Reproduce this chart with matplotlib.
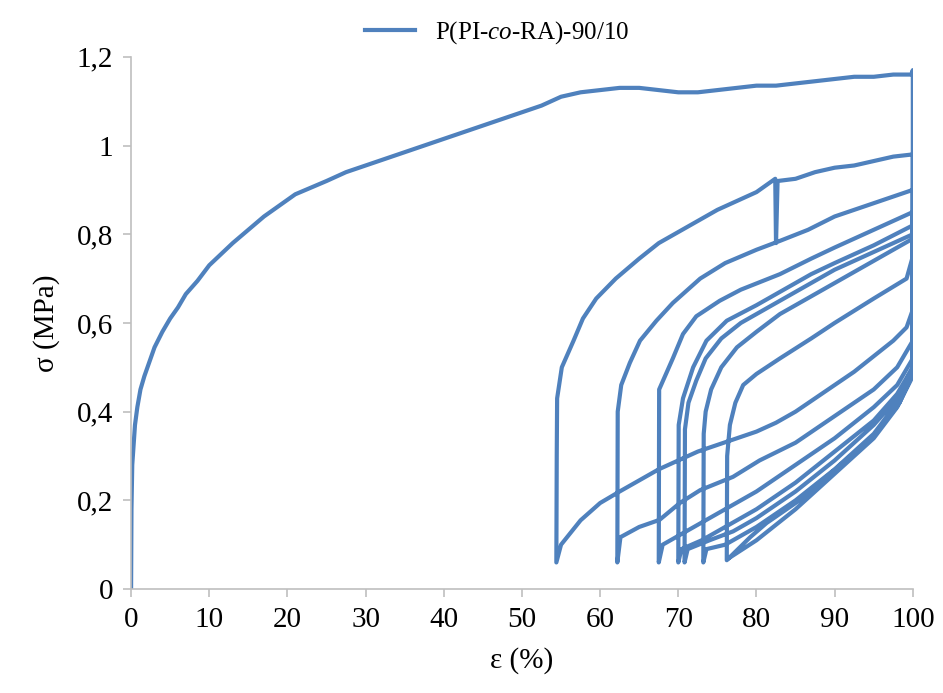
import numpy as np
import matplotlib.pyplot as plt

plt.rcParams['font.family'] = ['Liberation Serif', 'DejaVu Serif']
plt.rcParams['mathtext.fontset'] = 'custom'
plt.rcParams['mathtext.rm'] = 'Liberation Serif'
plt.rcParams['mathtext.it'] = 'Liberation Serif:italic'

# first loading 0 -> 100 %
strain_load = [0, 0.05, 0.15, 0.3, 0.5, 0.8, 1.2, 1.7, 2.3, 3, 4, 5, 6, 7, 8.5, 10, 11.5, 13,
               15, 17, 19, 21, 23, 25, 27.5, 30, 32.5, 35, 37.5, 40, 42.5, 45, 47.5, 50,
               52.5, 55, 57.5, 60, 62.5, 65, 67.5, 70, 72.5, 75, 77.5, 80, 82.5, 85, 87.5,
               90, 92.5, 95, 97.5, 99.8, 100]
stress_load = [0, 0.18, 0.28, 0.32, 0.37, 0.41, 0.45, 0.48, 0.51, 0.545, 0.58, 0.61, 0.635,
               0.665, 0.695, 0.73, 0.755, 0.78, 0.81, 0.84, 0.865, 0.89, 0.905, 0.92, 0.94,
               0.955, 0.97, 0.985, 1.0, 1.015, 1.03, 1.045, 1.06, 1.075, 1.09, 1.11, 1.12,
               1.125, 1.13, 1.13, 1.125, 1.12, 1.12, 1.125, 1.13, 1.135, 1.135, 1.14, 1.145,
               1.15, 1.155, 1.155, 1.16, 1.16, 1.17]

# unloading branches, from 100 % back to the minimum strain
strain_u1 = [100, 99.2, 97.5, 95, 92.5, 90, 87.5, 85, 82.5, 80, 77.5, 75, 72.5, 70, 67.5,
             65, 62.5, 60, 57.5, 55, 54.4]
stress_u1 = [0.63, 0.59, 0.56, 0.525, 0.49, 0.46, 0.43, 0.40, 0.375, 0.355, 0.34, 0.325,
             0.31, 0.29, 0.27, 0.245, 0.22, 0.194, 0.155, 0.10, 0.06]

strain_u2 = [100, 98, 95, 90, 85, 80.4, 77, 72.8, 70.2, 67.6, 65, 62.6, 62.2]
stress_u2 = [0.56, 0.50, 0.45, 0.39, 0.33, 0.29, 0.253, 0.223, 0.194, 0.156, 0.14, 0.117, 0.06]

strain_u3 = [100, 98, 95, 90, 85, 80, 76, 73, 70, 68, 67.5]
stress_u3 = [0.52, 0.46, 0.41, 0.34, 0.28, 0.22, 0.18, 0.15, 0.12, 0.10, 0.06]

strain_u4 = [100, 98, 95, 90, 85, 80, 76, 73, 70.4, 70.0]
stress_u4 = [0.50, 0.44, 0.38, 0.31, 0.24, 0.18, 0.14, 0.11, 0.09, 0.06]

strain_u5 = [100, 98, 95, 90, 85, 80, 77, 74, 71.2, 70.8]
stress_u5 = [0.50, 0.43, 0.37, 0.29, 0.22, 0.16, 0.13, 0.11, 0.09, 0.06]

strain_u6 = [100, 98, 95, 90, 85, 80, 76, 73.6, 73.2]
stress_u6 = [0.49, 0.42, 0.35, 0.27, 0.20, 0.14, 0.10, 0.09, 0.06]

strain_u7 = [100, 98.3, 94.9, 91, 85.5, 81.3, 79.2, 76.2]
stress_u7 = [0.487, 0.42, 0.343, 0.284, 0.20, 0.149, 0.117, 0.065]

strain_u8 = [100, 98, 95, 90, 85, 80, 76.5]
stress_u8 = [0.48, 0.41, 0.34, 0.26, 0.18, 0.11, 0.07]

# reloading branches, from the minimum strain up to 100 %
strain_r2 = [54.45, 54.5, 55.1, 56.6, 57.8, 59.5, 62, 65, 67.5, 70, 72.5, 75, 77.5, 80,
             82.4, 82.5, 82.7, 85, 87.5, 90, 92.5, 95, 97.5, 100]
stress_r2 = [0.30, 0.43, 0.50, 0.56, 0.61, 0.655, 0.70, 0.745, 0.78, 0.805, 0.83, 0.855,
             0.875, 0.895, 0.925, 0.78, 0.92, 0.925, 0.94, 0.95, 0.955, 0.965, 0.975, 0.98]

strain_r3 = [62.25, 62.7, 63.8, 65.1, 67.2, 69.3, 72.8, 76, 80, 83, 86.6, 90, 95, 100]
stress_r3 = [0.40, 0.46, 0.51, 0.56, 0.605, 0.645, 0.70, 0.735, 0.765, 0.785, 0.81, 0.84,
             0.87, 0.90]

strain_r4 = [67.55, 68.3, 69.3, 70.6, 72.3, 75.3, 78, 83, 87, 90, 95, 100]
stress_r4 = [0.45, 0.48, 0.52, 0.575, 0.615, 0.65, 0.675, 0.71, 0.745, 0.77, 0.81, 0.85]

strain_r5 = [70.05, 70.6, 71.9, 73.6, 76.2, 80, 83, 87, 90, 95, 100]
stress_r5 = [0.37, 0.43, 0.50, 0.56, 0.605, 0.64, 0.67, 0.71, 0.735, 0.775, 0.82]

strain_r6 = [70.85, 71.3, 72.3, 73.5, 75.5, 78, 80, 83, 87, 90, 95, 100]
stress_r6 = [0.36, 0.42, 0.47, 0.52, 0.565, 0.60, 0.62, 0.65, 0.69, 0.72, 0.76, 0.80]

strain_r7 = [73.25, 73.5, 74.2, 75.5, 77.5, 80, 83, 87, 90, 95, 100]
stress_r7 = [0.35, 0.40, 0.45, 0.50, 0.545, 0.58, 0.62, 0.66, 0.69, 0.74, 0.79]

strain_r8 = [76.25, 76.6, 77.3, 78.3, 80, 83, 87, 90, 95, 99.2, 100]
stress_r8 = [0.30, 0.37, 0.42, 0.46, 0.485, 0.52, 0.565, 0.60, 0.655, 0.70, 0.75]

# test order
segments = [
    (strain_load, stress_load), (strain_u1, stress_u1),
    (strain_r2, stress_r2), (strain_u2, stress_u2),
    (strain_r3, stress_r3), (strain_u3, stress_u3),
    (strain_r4, stress_r4), (strain_u4, stress_u4),
    (strain_r5, stress_r5), (strain_u5, stress_u5),
    (strain_r6, stress_r6), (strain_u6, stress_u6),
    (strain_r7, stress_r7), (strain_u7, stress_u7),
    (strain_r8, stress_r8), (strain_u8, stress_u8),
]
eps = np.concatenate([np.array(s[0], float) for s in segments])
sig = np.concatenate([np.array(s[1], float) for s in segments])

fig = plt.figure(figsize=(9.43, 6.93), dpi=100)
ax = fig.add_axes([0.139, 0.150, 0.829, 0.768])

ax.plot(eps, sig, color='#4F81BD', lw=3.0, solid_joinstyle='round',
        label=r'P(PI-$\mathit{co}$-RA)-90/10')

ax.set_xlim(0, 100)
ax.set_ylim(0, 1.2)
ax.set_xticks(np.arange(0, 101, 10))
ax.set_yticks(np.arange(0, 1.21, 0.2))
ax.set_yticklabels(['0', '0,2', '0,4', '0,6', '0,8', '1', '1,2'])

for s in ['top', 'right']:
    ax.spines[s].set_visible(False)
for s in ['left', 'bottom']:
    ax.spines[s].set_color('#bfbfbf')
    ax.spines[s].set_linewidth(1.2)
ax.tick_params(axis='both', direction='out', length=6, width=1.2, color='#bfbfbf',
               labelsize=21, pad=7)

ax.set_xlabel('ε (%)', fontsize=21, labelpad=10)
ax.set_ylabel('σ (MPa)', fontsize=21, labelpad=12)

fig.legend(loc='upper center', bbox_to_anchor=(0.527, 1.005), frameon=False, fontsize=18,
           handlelength=2.0, handletextpad=0.8)

fig.savefig('out.png', dpi=100)
